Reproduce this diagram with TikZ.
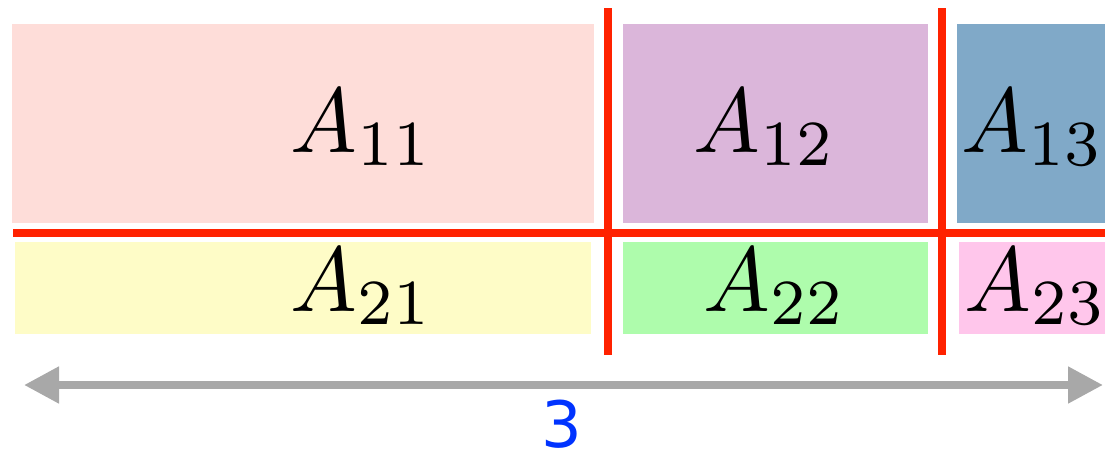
\documentclass[tikz,border=0pt]{standalone}
\usepackage{graphicx}
\usepackage{fontspec}
\newfontfamily\dejavu{DejaVu Sans}
\usetikzlibrary{arrows.meta}
\definecolor{c11}{RGB}{254,221,217}
\definecolor{c12}{RGB}{219,182,218}
\definecolor{c13}{RGB}{128,169,200}
\definecolor{c21}{RGB}{254,252,199}
\definecolor{c22}{RGB}{174,252,172}
\definecolor{c23}{RGB}{255,198,235}
\definecolor{cutred}{RGB}{255,34,0}
\definecolor{arrgray}{RGB}{168,168,168}
\definecolor{numblue}{RGB}{0,51,255}
\newcommand{\biglabel}[1]{\scalebox{8.9}[9.2]{$#1$}}
\tikzset{
  blockbox/.style={draw=none, inner sep=0pt, outer sep=0pt},
  toprow/.style={blockbox, minimum height=199pt},
  botrow/.style={blockbox, minimum height=92pt},
  lbl/.style={anchor=base, inner sep=0pt},
  cutline/.style={draw=cutred, line width=8pt},
  dimarrow/.style={draw=arrgray, line width=8pt, {Triangle[length=35pt,width=35pt]}-{Triangle[length=35pt,width=35pt]}}
}
\begin{document}
\begin{tikzpicture}[x=1pt,y=-1pt]
\useasboundingbox (0,0) rectangle (1105,455);
% blocks
\node[toprow, fill=c11, minimum width=582pt] (b11) at (303,123.5) {};
\node[toprow, fill=c12, minimum width=305pt] (b12) at (775.5,123.5) {};
\node[toprow, fill=c13, minimum width=148pt] (b13) at (1031,123.5) {};
\node[botrow, fill=c21, minimum width=576pt] (b21) at (303,288) {};
\node[botrow, fill=c22, minimum width=305pt] (b22) at (775.5,288) {};
\node[botrow, fill=c23, minimum width=146pt] (b23) at (1032,288) {};
% labels
\node[lbl] (t11) at (362,152) {\biglabel{A_{11}}};
\node[lbl] (t12) at (765,152) {\biglabel{A_{12}}};
\node[lbl] (t13) at (1033,152) {\biglabel{A_{13}}};
\node[lbl] (t21) at (362,311) {\biglabel{A_{21}}};
\node[lbl] (t22) at (775,311) {\biglabel{A_{22}}};
\node[lbl] (t23) at (1036,311) {\biglabel{A_{23}}};
% cut lines
\coordinate (hl) at (13,232.5);
\coordinate (hr) at (1105,232.5);
\coordinate (v1t) at (608,8);
\coordinate (v1b) at (608,355);
\coordinate (v2t) at (942,8);
\coordinate (v2b) at (942,355);
\draw[cutline] (hl) -- (hr);
\draw[cutline] (v1t) -- (v1b);
\draw[cutline] (v2t) -- (v2b);
% dimension arrow
\coordinate (al) at (24,385);
\coordinate (ar) at (1103,385);
\draw[dimarrow] (al) -- (ar);
\node[text=numblue, font=\dejavu\fontsize{64}{68}\selectfont, inner sep=0pt] (num) at (562,424) {3};
\end{tikzpicture}
\end{document}
